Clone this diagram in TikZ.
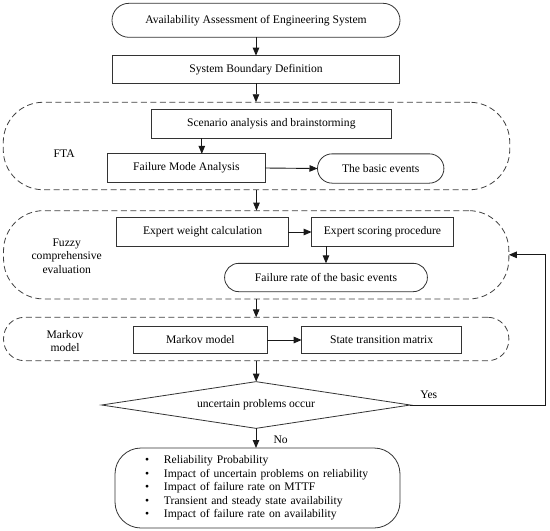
\documentclass[tikz,border=0pt]{standalone}
\usepackage{fontspec}
\setmainfont{Liberation Serif}
\usetikzlibrary{arrows.meta,shapes.geometric,calc}
\begin{document}
\begin{tikzpicture}[x=1pt,y=-1pt,
  font=\fontsize{11.6}{13.5}\selectfont,
  every node/.style={inner sep=0pt,outer sep=0pt},
  procbox/.style={draw=black!80,line width=0.8pt,rectangle,anchor=center},
  termbox/.style={draw=black!80,line width=0.8pt,rectangle,rounded corners=#1},
  regionbox/.style={draw=black!75,line width=0.8pt,dash pattern=on 6pt off 3.5pt,rounded corners=#1},
  decbox/.style={draw=black!80,line width=0.8pt,diamond,shape aspect=6.6},
  arr/.style={draw=black!90,line width=0.9pt,-{Triangle[length=8pt,width=6.5pt]}},
  lbl/.style={align=center}
]
\useasboundingbox (0,0) rectangle (550,531);

% main column
\node[termbox=17pt,minimum width=288pt,minimum height=34pt] (start) at (256,20.3) {Availability Assessment of Engineering System};
\node[procbox,minimum width=287pt,minimum height=27.7pt] (sbd) at (256,69.5) {System Boundary Definition};

% FTA region
\node[regionbox=40pt,minimum width=506.5pt,minimum height=87.5pt] (fta) at (256.5,146) {};
\node[lbl] (ftalbl) at (64.2,153.3) {FTA};
\node[procbox,minimum width=239.4pt,minimum height=28.3pt] (scen) at (271.3,124) {Scenario analysis and brainstorming};
\node[procbox,minimum width=157.3pt,minimum height=28.3pt] (fma) at (186.4,168) {Failure Mode Analysis};
\node[termbox=14.6pt,minimum width=126.4pt,minimum height=29.3pt] (basic) at (380.7,168.5) {The basic events};

% Fuzzy region
\node[regionbox=40pt,minimum width=505.3pt,minimum height=88.3pt] (fuzzy) at (256.2,254.8) {};
\node[lbl] (fuzzylbl) at (66.7,256) {Fuzzy\\comprehensive\\evaluation};
\node[procbox,minimum width=171.6pt,minimum height=28.3pt] (ew) at (202.6,232) {Expert weight calculation};
\node[procbox,minimum width=141.7pt,minimum height=28.3pt] (es) at (382.5,232) {Expert scoring procedure};
\node[termbox=14.1pt,minimum width=202.8pt,minimum height=28.3pt] (fr) at (326,277.5) {Failure rate of the basic events};

% Markov region
\node[regionbox=21pt,minimum width=505.3pt,minimum height=43.4pt] (markov) at (256.2,339) {};
\node[lbl] (markovlbl) at (65,341) {Markov\\model};
\node[procbox,minimum width=134pt,minimum height=26.7pt] (mm) at (200.4,340) {Markov model};
\node[procbox,minimum width=160pt,minimum height=26.7pt] (stm) at (381.7,340) {State transition matrix};

% decision
\node[decbox,minimum width=308.7pt,minimum height=46.7pt] (dec) at (256,405) {uncertain problems occur};
\coordinate (yc) at (545.6,405);
\node (yes) at (428.8,395) {Yes};
\node (no) at (280.7,440) {No};

% result
\node[termbox=26pt,minimum height=80pt,text width=225pt,inner xsep=30pt,align=left] (res) at (257.5,488) {%
\makebox[19pt][l]{\textbullet}Reliability Probability\\
\makebox[19pt][l]{\textbullet}Impact of uncertain problems on reliability\\
\makebox[19pt][l]{\textbullet}Impact of failure rate on MTTF\\
\makebox[19pt][l]{\textbullet}Transient and steady state availability\\
\makebox[19pt][l]{\textbullet}Impact of failure rate on availability};

% connectors
\draw[arr] (start.south) -- (sbd.north);
\draw[arr] (sbd.south) -- (sbd.south |- fta.north);
\draw[arr] ([xshift=15.4pt]fma.north |- scen.south) -- ([xshift=15.4pt]fma.north);
\draw[arr] (fma.east) -- (basic.west);
\draw[arr] (fta.south) -- (fta.south |- fuzzy.north);
\draw[arr] (ew.east) -- (es.west);
\draw[arr] (fr.north |- es.south) -- (fr.north);
\draw[arr] (fuzzy.south) -- (fuzzy.south |- markov.north);
\draw[arr] (mm.east) -- (stm.west);
\draw[arr] (markov.south) -- (markov.south |- dec.north);
\draw[arr] (dec.east) -- (yc) |- (fuzzy.east);
\draw[arr] (dec.south) -- (dec.south |- res.north);
\end{tikzpicture}
\end{document}
